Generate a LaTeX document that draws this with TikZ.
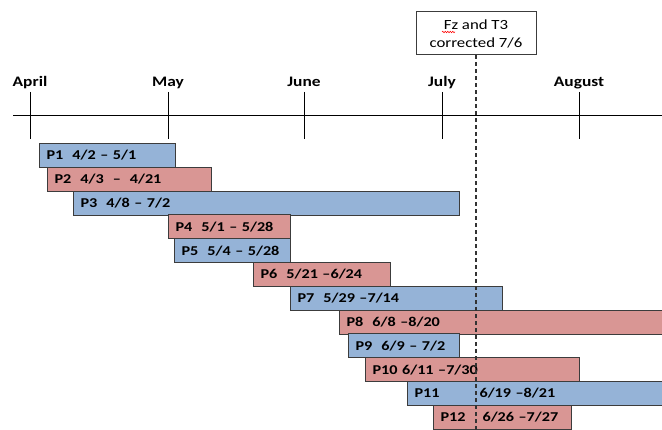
\documentclass[tikz,border=0pt]{standalone}
\usepackage{fontspec}
\setmainfont{Carlito}[FakeStretch=1.2]
\usetikzlibrary{decorations.pathmorphing}

\definecolor{phaseblue}{RGB}{149,179,215}
\definecolor{phasered}{RGB}{217,150,148}
\definecolor{barline}{RGB}{60,60,60}

\tikzset{
	month/.style={font=\fontsize{14.5}{16}\selectfont\bfseries, anchor=base},
	phase/.style={draw=barline, line width=1.1pt, anchor=north west, minimum height=24pt,
		inner xsep=7pt, inner ysep=0pt, align=left, font=\fontsize{13.5}{15}\selectfont\bfseries},
	bluebar/.style={phase, fill=phaseblue},
	redbar/.style={phase, fill=phasered}
}

\begin{document}
\begin{tikzpicture}[x=1pt, y=-1pt]
			%%%%% START %%%%%
			\useasboundingbox (0, 0) rectangle (662, 430);
			
			% time axis with month ticks
			\draw[line width=0.9pt] (13, 115) -- (662, 115);
			\foreach \mx/\mname in {30/April, 168/May, 304/June, 442/July, 579/August} {
				\draw[line width=0.9pt] (\mx, 92) -- (\mx, 139);
				\node[month] (\mname) at (\mx, 87) {\mname};
			}
			
			% phases
			\node[bluebar, text width=122pt] (p1) at (39, 143) {P1\ \ 4/2 -- 5/1};
			\node[redbar, text width=150pt] (p2) at (47, 166.8) {P2\ \ 4/3\ \ --\ \ 4/21};
			\node[bluebar, text width=372pt] (p3) at (73, 190.6) {P3\ \ 4/8 -- 7/2};
			\node[redbar, text width=108pt] (p4) at (168, 214.4) {P4\ \ 5/1 -- 5/28};
			\node[bluebar, text width=102pt] (p5) at (174, 238.2) {P5\ \ 5/4 -- 5/28};
			\node[redbar, text width=123pt] (p6) at (253, 262) {P6\ \ 5/21 --6/24};
			\node[bluebar, text width=198pt] (p7) at (290, 285.8) {P7\ \ 5/29 --7/14};
			\node[redbar, text width=326pt] (p8) at (339, 309.6) {P8\ \ 6/8 --8/20};
			\node[bluebar, text width=97pt] (p9) at (348, 333.4) {P9\ \ 6/9 -- 7/2};
			\node[redbar, text width=200pt] (p10) at (365, 357.2) {P10 6/11 --7/30};
			\node[bluebar, text width=249pt] (p11) at (407, 381) {\makebox[65pt][l]{P11}6/19 --8/21};
			\node[redbar, text width=124pt] (p12) at (433, 404.8) {\makebox[42pt][l]{P12}6/26 --7/27};
			
			% correction marker
			\node[draw=barline, line width=1pt, fill=white, minimum width=120pt, minimum height=43pt,
				align=center, font=\fontsize{14}{18}\selectfont] (note) at (476, 33.5) {Fz and T3\\corrected 7/6};
			\coordinate (markend) at (476, 430);
			\draw[line width=1.4pt, dash pattern=on 4pt off 3pt, color=black!80] (note.south) -- (markend);
			\draw[red, line width=0.5pt, decorate, decoration={snake, amplitude=0.8pt, segment length=2.5pt}]
				(442, 32) -- (455, 32);
			
			%%%%% END %%%%%
		\end{tikzpicture}
\end{document}
